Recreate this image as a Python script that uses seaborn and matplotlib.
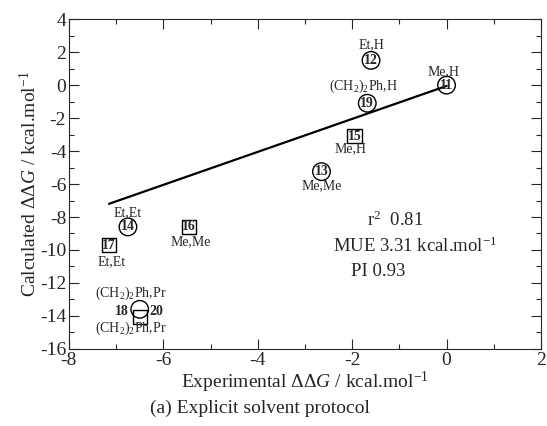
import numpy as np
import pandas as pd
import seaborn as sns
import matplotlib.pyplot as plt
from matplotlib.ticker import MultipleLocator

# compound data
ids = ['11', '12', '19', '15', '13', '14', '16', '17', '18', '20']
expt = [0.0, -1.6, -1.68, -1.95, -2.65, -6.75, -5.45, -7.15, -6.5, -6.5]
calc = [0.0, 1.5, -1.1, -3.1, -5.25, -8.6, -8.6, -9.7, -14.05, -13.6]
shape = ['circle', 'circle', 'circle', 'square', 'circle', 'circle', 'square', 'square', 'square', 'circle']
subst = ['Me,H', 'Et,H', '(CH$_2$)$_2$Ph,H', 'Me,H', 'Me,Me', 'Et,Et', 'Me,Me', 'Et,Et',
         '(CH$_2$)$_2$Ph,Pr', '(CH$_2$)$_2$Ph,Pr']

# regression line end points
fit_x = [-7.15, 0.0]
fit_y = [-7.2, -0.05]

df = pd.DataFrame({'id': ids, 'expt': expt, 'calc': calc, 'shape': shape, 'subst': subst})

sns.set_theme(style='ticks')
plt.rcParams['font.family'] = ['Liberation Serif', 'DejaVu Serif']
plt.rcParams['mathtext.fontset'] = 'custom'
plt.rcParams['mathtext.rm'] = 'Liberation Serif'
plt.rcParams['mathtext.it'] = 'Liberation Serif:italic'
plt.rcParams['axes.unicode_minus'] = False

fig = plt.figure(figsize=(5.47, 4.26), dpi=100)
ax = fig.add_axes([0.126, 0.181, 0.863, 0.774])

sns.lineplot(x=fit_x, y=fit_y, ax=ax, color='black', lw=1.6)

circ = df[df['shape'] == 'circle']
sq = df[df['shape'] == 'square']
sns.scatterplot(data=circ, x='expt', y='calc', marker='o', s=160, facecolor='none',
                edgecolor='black', linewidth=1.0, ax=ax, zorder=3)
sns.scatterplot(data=sq, x='expt', y='calc', marker='s', s=105, facecolor='none',
                edgecolor='black', linewidth=1.0, ax=ax, zorder=3)

# label offsets (points): number offset, substituent offset
num_off = {'18': (-13, 3.6), '20': (12, -1.4)}
sub_off = {'11': (-2, 9.5), '12': (0, 11), '19': (-3, 12), '15': (-3, -9), '13': (0, -10),
           '14': (0, 10), '16': (1, -11), '17': (2, -12), '18': (-6.5, -8.6), '20': (-6.5, 11.5)}

for _, r in df.iterrows():
    dx, dy = num_off.get(r['id'], (0, 0))
    ax.annotate(r['id'], (r['expt'], r['calc']), xytext=(dx, dy), textcoords='offset points',
                ha='center', va='center', fontsize=10, fontweight='bold', zorder=4)
    sx, sy = sub_off[r['id']]
    ax.annotate(r['subst'], (r['expt'], r['calc']), xytext=(sx, sy), textcoords='offset points',
                ha='center', va='center', fontsize=10, zorder=4)

ax.text(-1.68, -8.2, 'r$^2$  0.81', fontsize=13.5, va='center')
ax.text(-2.4, -9.8, 'MUE 3.31 kcal.mol$^{-1}$', fontsize=13.5, va='center')
ax.text(-2.02, -11.3, 'PI 0.93', fontsize=13.5, va='center')

ax.set_xlim(-8, 2)
ax.set_ylim(-16, 4)
ax.xaxis.set_major_locator(MultipleLocator(2))
ax.xaxis.set_minor_locator(MultipleLocator(1))
ax.yaxis.set_major_locator(MultipleLocator(2))
ax.yaxis.set_minor_locator(MultipleLocator(1))
ax.tick_params(which='both', direction='in', top=True, right=True, labelsize=14, pad=2)
ax.tick_params(which='major', length=7, width=0.8)
ax.tick_params(which='minor', length=3.5, width=0.8)
for sp in ax.spines.values():
    sp.set_linewidth(0.8)
    sp.set_visible(True)

ax.set_xlabel('Experimental $\\Delta\\Delta G$ / kcal.mol$^{-1}$', fontsize=14, labelpad=1)
ax.set_ylabel('Calculated $\\Delta\\Delta G$ / kcal.mol$^{-1}$', fontsize=14, labelpad=0)
fig.text(0.475, 0.042, '(a) Explicit solvent protocol', ha='center', va='center', fontsize=14)

fig.savefig('out.png', dpi=100)
